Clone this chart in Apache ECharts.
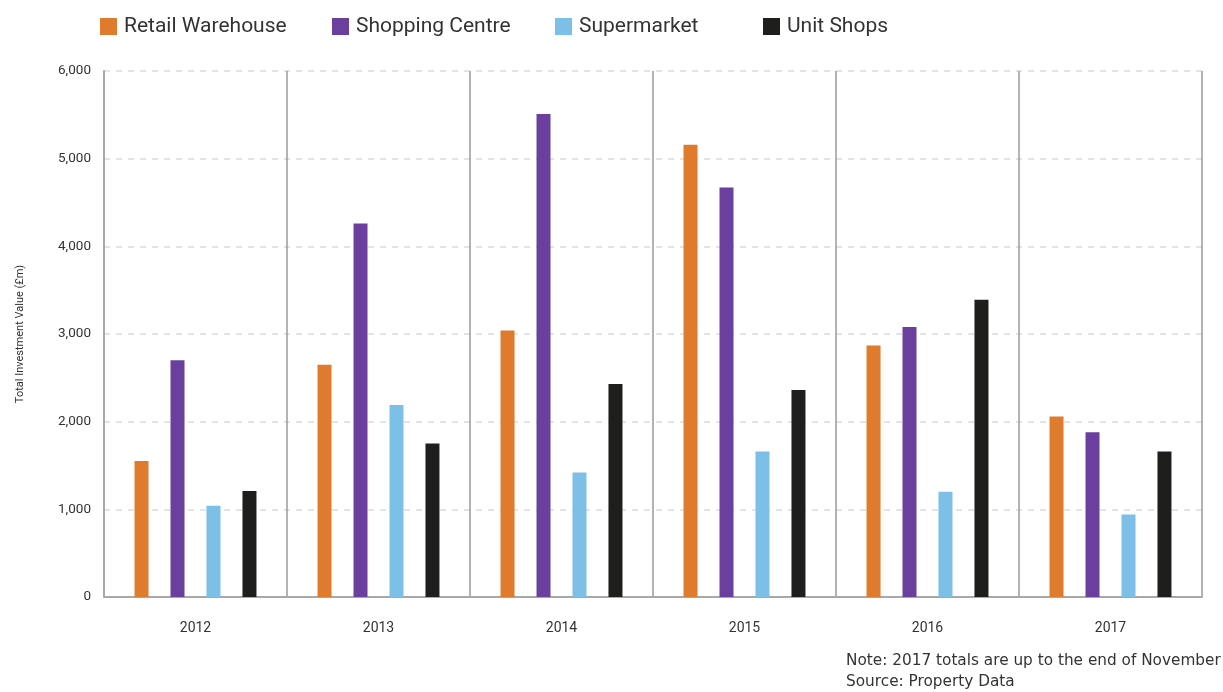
<!DOCTYPE html>
<html>
<head>
<meta charset="utf-8">
<script src="https://cdn.jsdelivr.net/npm/echarts@6/dist/echarts.min.js"></script>
<style>html,body{margin:0;padding:0;background:#fff;}#c{width:1223px;height:692px;}</style>
</head>
<body>
<div id="c"></div>
<script>
const years = ['2012','2013','2014','2015','2016','2017'];
const seriesNames = ['Retail Warehouse','Shopping Centre','Supermarket','Unit Shops'];
const retailWarehouse = [1550, 2650, 3040, 5160, 2870, 2060];
const shoppingCentre = [2700, 4260, 5510, 4670, 3080, 1880];
const supermarket = [1040, 2190, 1420, 1660, 1200, 940];
const unitShops = [1210, 1750, 2430, 2360, 3390, 1660];
const colors = ['#DF7B2C', '#6A3F9E', '#7CBFE7', '#1E1E1C'];
const yTicks = [0, 1000, 2000, 3000, 4000, 5000, 6000];
const noteLines = ['Note: 2017 totals are up to the end of November', 'Source: Property Data'];

const chart = echarts.init(document.getElementById('c'));
const allData = [retailWarehouse, shoppingCentre, supermarket, unitShops];
const legendLeft = [100, 332, 555, 763];
const font = 'Roboto, "Noto Sans", sans-serif';

chart.setOption({
  animation: false,
  backgroundColor: '#fff',
  textStyle: { fontFamily: font },
  legend: seriesNames.map((n, i) => ({
    data: [n], left: legendLeft[i], top: 16, padding: 0,
    icon: 'rect', itemWidth: 17, itemHeight: 17, itemGap: 6,
    textStyle: { fontSize: 21, color: '#333', fontFamily: font, padding: [0,0,0,2] }
  })),
  grid: { left: 104, right: 21, top: 71, bottom: 95 },
  xAxis: {
    type: 'category', data: years,
    axisLine: { lineStyle: { color: '#a8a8a8', width: 2 } },
    axisTick: { show: false },
    axisLabel: { fontSize: 14, color: '#333', margin: 24 },
    splitLine: { show: true, lineStyle: { color: '#9a9a9a', width: 1.5 } }
  },
  yAxis: {
    type: 'value', min: yTicks[0], max: yTicks[yTicks.length-1], interval: 1000,
    name: 'Total Investment Value (£m)', nameLocation: 'middle', nameGap: 78, nameRotate: 90,
    nameTextStyle: { fontSize: 11, color: '#333' },
    axisLine: { show: true, lineStyle: { color: '#a8a8a8', width: 2 } },
    axisTick: { show: false },
    axisLabel: { fontSize: 13.5, color: '#333', margin: 13,
      formatter: v => v.toLocaleString('en-US') },
    splitLine: { show: true, lineStyle: { color: '#dcdcdc', type: [6, 6], width: 1.5 } }
  },
  series: seriesNames.map((n, i) => ({
    name: n, type: 'bar', data: allData[i], barWidth: 14, barGap: '157%',
    itemStyle: { color: colors[i] }
  })),
  graphic: noteLines.map((t, i) => ({
    type: 'text', left: 846, top: 654 + i * 21,
    style: { text: t, fontSize: 15.3, fill: '#333', fontFamily: '"DejaVu Sans", sans-serif' }
  }))
});
</script>
</body>
</html>
